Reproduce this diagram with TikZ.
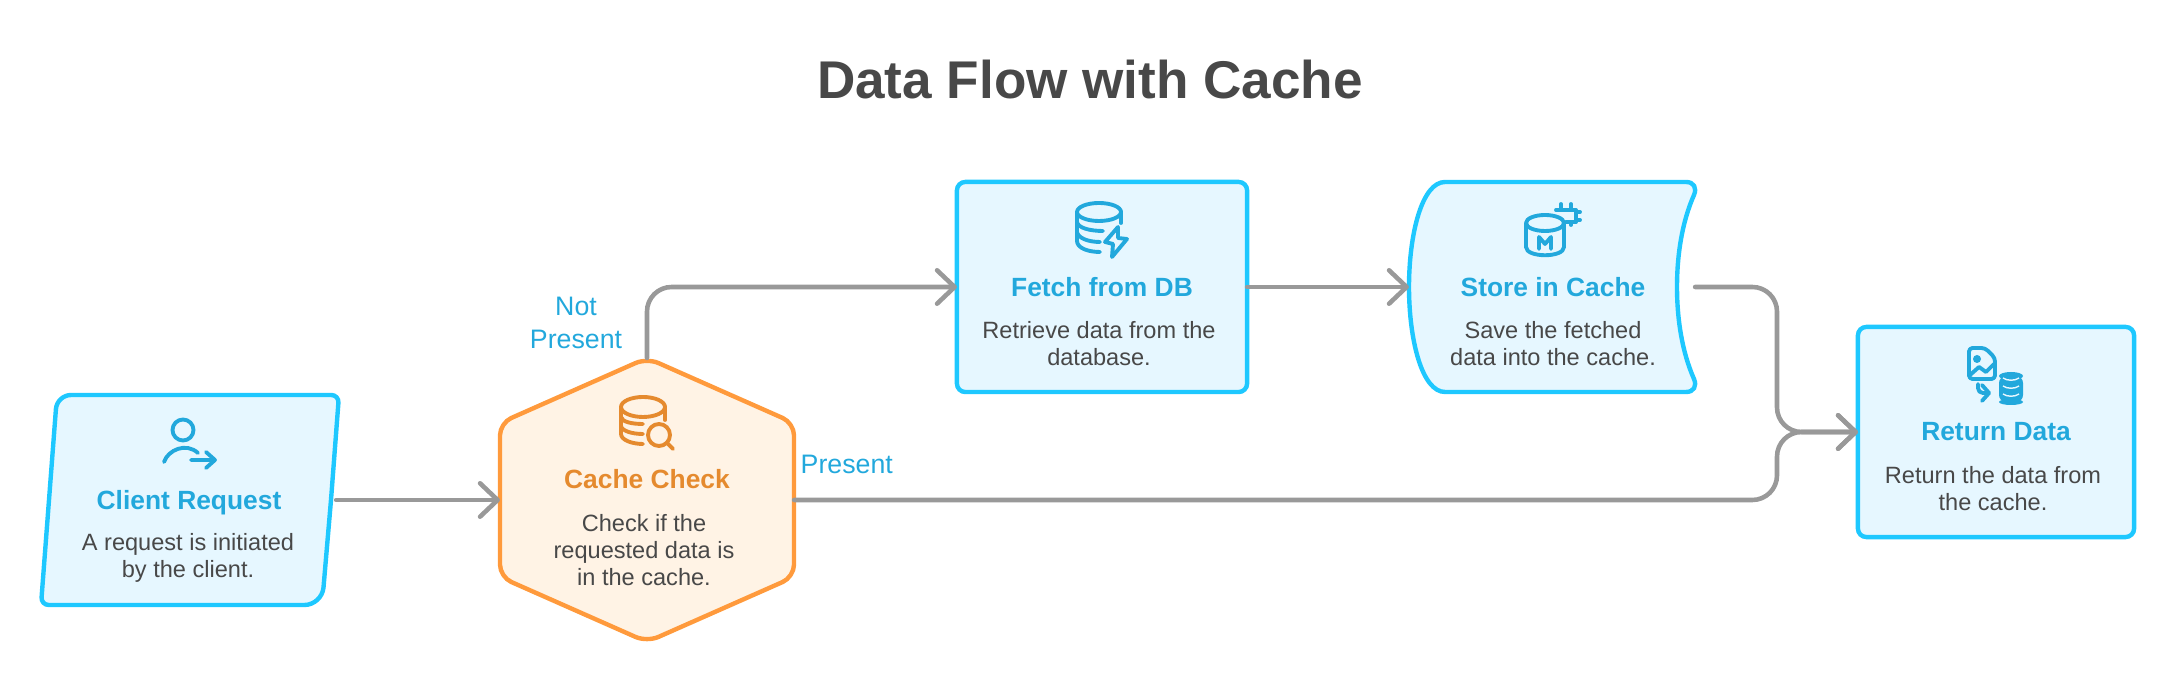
\documentclass[tikz,border=0pt]{standalone}
\usepackage{fontspec}
\setmainfont{Liberation Sans}
\usetikzlibrary{arrows.meta}

\definecolor{skyline}{HTML}{1EC8FF}
\definecolor{skyfill}{HTML}{E6F7FF}
\definecolor{skytext}{HTML}{22A8DC}
\definecolor{orangeline}{HTML}{FF9A3C}
\definecolor{orangefill}{HTML}{FFF3E5}
\definecolor{orangetext}{HTML}{E58A2E}
\definecolor{bodytext}{HTML}{484848}
\definecolor{flowgray}{HTML}{999999}

\tikzset{
  flowbox/.style={draw=skyline, fill=skyfill, line width=1.25pt},
  anchorbox/.style={minimum height=2.1cm, inner sep=0pt, outer sep=0pt},
  flowarrow/.style={draw=flowgray, line width=1.3pt, line cap=round, rounded corners=7pt, -{Straight Barb[round, length=5pt, width=9.5pt]}},
  boxtitle/.style={font=\fontsize{7.5}{9}\selectfont\bfseries, text=skytext},
  boxtext/.style={font=\fontsize{6.7}{7.68}\selectfont, text=bodytext, align=center},
  iconline/.style={draw=skytext, line width=1.1pt, line cap=round, line join=round},
}

\begin{document}
\begin{tikzpicture}[x=0.01cm, y=-0.01cm]
    \useasboundingbox (0,0) rectangle (2172,698);

    % Title
    \node[font=\fontsize{15.1}{18}\selectfont\bfseries, text=bodytext] (title) at (1090,80) {Data Flow with Cache};

    % Shapes of the five steps
    \draw[flowbox] (190,395) [rounded corners=2.2pt] -- (339,395) -- (331,500) [rounded corners=5pt] -- (322,605) [rounded corners=2.2pt] -- (41,605) -- (49,500) [rounded corners=4pt] -- (57,395) -- cycle;
    \draw[draw=orangeline, fill=orangefill, line width=1.25pt, rounded corners=3.5pt] (647,358) -- (794,423) -- (794,577) -- (647,642) -- (500,577) -- (500,423) -- cycle;
    \node[flowbox, anchorbox, minimum width=2.9cm, rounded corners=2.4pt] (fetch) at (1102,287) {};
    \draw[flowbox] (1445,182) -- (1686,182) .. controls (1694,182) and (1697,188) .. (1694,195) .. controls (1682,222) and (1677,255) .. (1677,287) .. controls (1677,319) and (1682,352) .. (1694,379) .. controls (1697,386) and (1694,392) .. (1686,392) -- (1445,392) .. controls (1422,392) and (1409,340) .. (1409,287) .. controls (1409,234) and (1422,182) .. (1445,182) -- cycle;
    \node[flowbox, anchorbox, minimum width=2.76cm, rounded corners=2.4pt] (return) at (1996,432) {};

    % Named places for the connectors
    \node[anchorbox, minimum width=2.95cm] (client) at (188.5,500) {};
    \node[anchorbox, minimum width=2.94cm] (check) at (647,500) {};
    \node[anchorbox, minimum width=2.86cm] (store) at (1552,287) {};
    \coordinate (turn) at (1777,432);

    % Connectors
    \draw[flowarrow] (client.east) -- (check.west);
    \coordinate (checktop) at (647,358);
    \draw[flowarrow] (checktop) |- (fetch.west);
    \draw[flowarrow] (fetch.east) -- (store.west);
    \draw[flowarrow] (store.east) -| (turn) -- (return.west);
    \draw[flowarrow] (check.east) -| (turn) -- (return.west);

    % Connector labels
    \node[font=\fontsize{7.6}{9.3}\selectfont, text=skytext, align=center] (notpresent) at (576,323) {Not\\Present};
    \node[font=\fontsize{7.6}{9.3}\selectfont, text=skytext, anchor=west, inner sep=0pt] (present) at (800,464) {Present};

    % Texts of the blue steps
    \foreach \n/\x/\y/\tx/\ty/\head/\txt in {
      client/189/503/188/558/Client Request/{A request is initiated\\by the client.},
      fetch/1102/287/1099/343.5/Fetch from DB/{Retrieve data from the\\database.},
      store/1553/287/1553/343.5/Store in Cache/{Save the fetched\\data into the cache.},
      return/1996/432/1993/488.5/Return Data/{Return the data from\\the cache.}} {
      \node[boxtitle] (\n head) at (\x,\y) {\head};
      \node[boxtext] (\n text) at (\tx,\ty) {\txt};
    }

    % Texts of the orange step
    \node[boxtitle, text=orangetext] (checkhead) at (647,479) {Cache Check};
    \node[boxtext] (checktext) at (644,550) {Check if the\\requested data is\\in the cache.};

    % Icon: client
    \draw[iconline] (183,430) circle (10.5);
    \draw[iconline] (164,462) .. controls (168,450) and (186,442) .. (198,453);
    \draw[iconline] (191,460) -- (215,460) (206,452) -- (215,460) -- (206,468);

    % Icon: cache check
    \draw[iconline, draw=orangetext] (643,407) ellipse (22 and 10);
    \draw[iconline, draw=orangetext] (621,407) -- (621,434) .. controls (621,440) and (632,444) .. (643,444);
    \draw[iconline, draw=orangetext] (665,407) -- (665,420);
    \draw[iconline, draw=orangetext] (621,417) .. controls (622,422) and (632,424) .. (643,424);
    \draw[iconline, draw=orangetext] (621,426) .. controls (622,431) and (632,434) .. (643,434);
    \draw[iconline, draw=orangetext] (659,435) circle (11) (667,443) -- (673,449);

    % Icon: fetch from db
    \draw[iconline] (1099,212) ellipse (22 and 9);
    \draw[iconline] (1077,212) -- (1077,241) .. controls (1077,248) and (1088,252) .. (1100,252);
    \draw[iconline] (1121,212) -- (1121,223);
    \draw[iconline] (1077,222) .. controls (1078,228) and (1090,231) .. (1103,231);
    \draw[iconline] (1077,232) .. controls (1078,238) and (1088,242) .. (1100,242);
    \draw[iconline] (1118,227) -- (1105,242) -- (1113,244) -- (1112,257) -- (1127,239) -- (1118,238) -- cycle;

    % Icon: store in cache
    \draw[iconline] (1545,223) ellipse (19 and 8);
    \draw[iconline] (1526,223) -- (1526,247) .. controls (1526,258) and (1564,258) .. (1564,247) -- (1564,223);
    \draw[iconline] (1539,249) -- (1539,237) -- (1545,244) -- (1551,237) -- (1551,249);
    \draw[iconline] (1556,210) -- (1576,210) -- (1576,222) -- (1566,222);
    \draw[iconline] (1561,204) -- (1561,210) (1571,204) -- (1571,210) (1576,212) -- (1580,212) (1576,220) -- (1580,220) (1571,222) -- (1571,225);

    % Icon: return data
    \draw[iconline, rounded corners=1pt] (1969,348) -- (1985,348) -- (1995,358) -- (1995,379) -- (1969,379) -- cycle;
    \fill[skytext] (1977,359) circle (4);
    \draw[iconline] (1970,375) -- (1979,367) -- (1986,372) -- (1994,364);
    \draw[iconline, -{Straight Barb[round, length=2pt, width=4.5pt]}] (1978,384) -- (1978,388) .. controls (1978,391) and (1980,393) .. (1983,393) -- (1991,393);
    \fill[skytext, rounded corners=2pt] (1999,376) -- (2023,376) -- (2023,402) -- (1999,402) -- cycle;
    \fill[skytext] (2011,376) ellipse (12 and 4);
    \fill[skytext] (2011,402) ellipse (12 and 3);
    \foreach \y in {378,386,394} {
      \draw[draw=skyfill, line width=0.4pt] (2003,\y) .. controls (2007,\y+3) and (2015,\y+3) .. (2019,\y);
    }
\end{tikzpicture}
\end{document}
